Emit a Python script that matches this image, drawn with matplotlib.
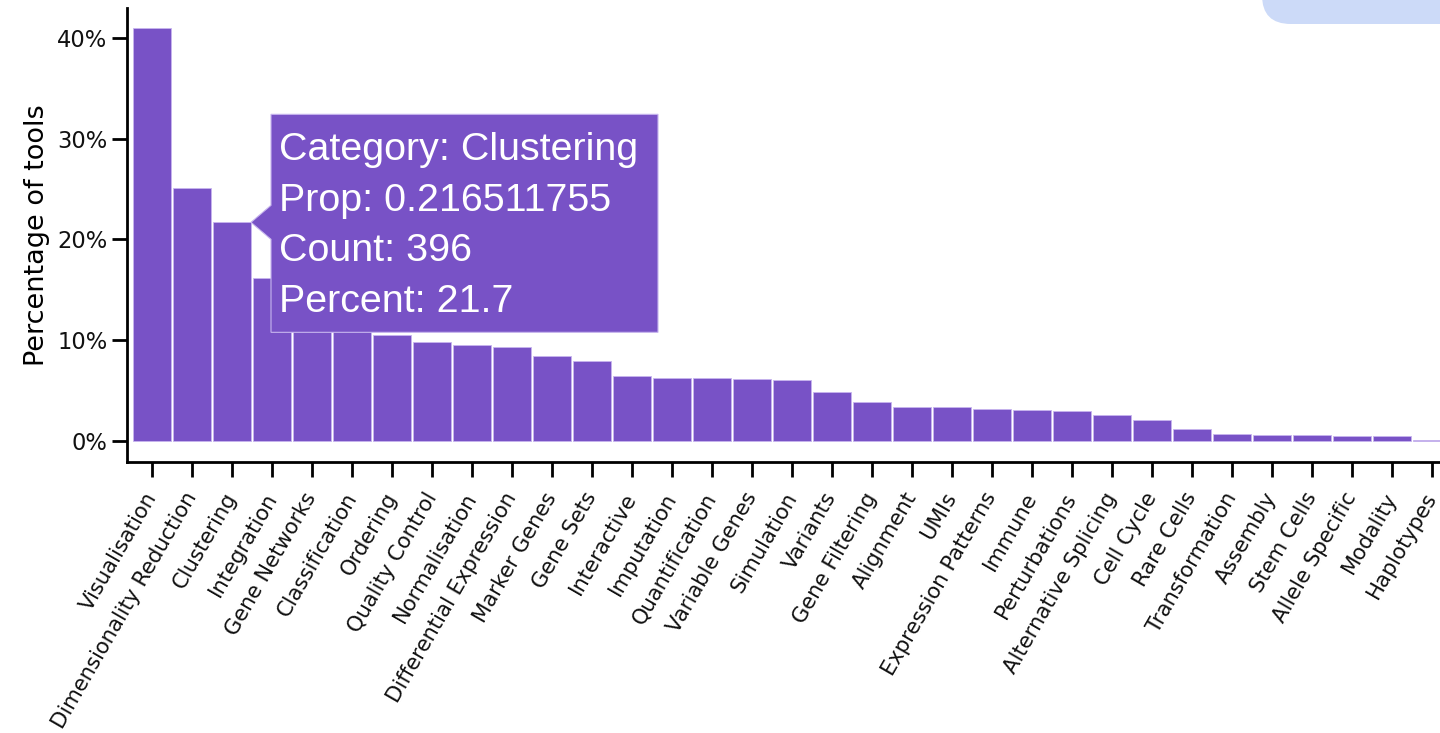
"""
Bar chart of scRNA-tools categories with a hover tooltip, re-drawn in matplotlib
"""
import numpy as np
import matplotlib
matplotlib.use('Agg')
import matplotlib.pyplot as plt
from matplotlib.patches import Polygon, FancyBboxPatch
from matplotlib.ticker import FuncFormatter

# Data
categories = [
    'Visualisation', 'Dimensionality Reduction', 'Clustering', 'Integration',
    'Gene Networks', 'Classification', 'Ordering', 'Quality Control',
    'Normalisation', 'Differential Expression', 'Marker Genes', 'Gene Sets',
    'Interactive', 'Imputation', 'Quantification', 'Variable Genes',
    'Simulation', 'Variants', 'Gene Filtering', 'Alignment', 'UMIs',
    'Expression Patterns', 'Immune', 'Perturbations', 'Alternative Splicing',
    'Cell Cycle', 'Rare Cells', 'Transformation', 'Assembly', 'Stem Cells',
    'Allele Specific', 'Modality', 'Haplotypes',
]
percents = [
    41.0, 25.1, 21.7, 16.2, 11.6, 11.0, 10.5, 9.8, 9.5, 9.3, 8.4, 7.9,
    6.4, 6.2, 6.2, 6.1, 6.0, 4.8, 3.8, 3.3, 3.3, 3.1, 3.0, 2.9, 2.6,
    2.1, 1.2, 0.7, 0.6, 0.55, 0.45, 0.45, 0.1,
]
y_ticks = [0, 10, 20, 30, 40]

# Tooltip content (hovered bar)
tip_category = 'Clustering'
tip_prop = '0.216511755'
tip_count = 396
tip_percent = 21.7

PURPLE = '#7852c6'
DPI = 100
W, H = 1440, 733

fig = plt.figure(figsize=(W / DPI, H / DPI), dpi=DPI, facecolor='white')
# axes spans from the left spine to the right edge of the figure
ax = fig.add_axes([127 / W, 1 - 462 / H, 1 - 127 / W, (462 - 8) / H])

x = np.arange(len(categories))
ax.bar(x, percents, width=0.955, color=PURPLE, edgecolor='#c7b5ee',
       linewidth=0.6, zorder=2)

ax.set_xlim(-0.625, len(categories) - 1 + 0.2)
ax.set_ylim(-2.12, 43.0)

# Axis styling (d3 look: only left & bottom, thick ticks)
for side in ['top', 'right']:
    ax.spines[side].set_visible(False)
for side in ['left', 'bottom']:
    ax.spines[side].set_linewidth(2.0)
    ax.spines[side].set_color('black')

ax.set_yticks(y_ticks)
ax.yaxis.set_major_formatter(FuncFormatter(lambda v, _: f'{v:.0f}%'))
ax.set_xticks(x)
ax.set_xticklabels(categories, rotation=60, ha='right', va='center',
                   rotation_mode='anchor')
ax.tick_params(axis='both', length=11, width=2.0, color='black',
               labelcolor='#111111')
ax.tick_params(axis='x', pad=12, labelsize=15.2)
ax.tick_params(axis='y', pad=3, labelsize=16.3)

ax.set_ylabel('Percentage of tools', fontsize=19.5, labelpad=5)

# Tooltip: box with a small pointer at the right edge of the hovered bar
fig.canvas.draw()
i = categories.index(tip_category)
tx, ty = ax.transData.transform((i + 0.475, percents[i]))
box = [(tx + 20, ty + 17), (tx + 20, ty + 108), (tx + 407, ty + 108),
       (tx + 407, ty - 110), (tx + 20, ty - 110), (tx + 20, ty - 17),
       (tx, ty)]
fig.patches.append(Polygon(box, closed=True, transform=None,
                           facecolor=PURPLE, edgecolor='#c7b5ee',
                           linewidth=0.8, zorder=5))
tip_lines = [
    f'Category: {tip_category}',
    f'Prop: {tip_prop}',
    f'Count: {tip_count}',
    f'Percent: {tip_percent}',
]
for k, line in enumerate(tip_lines):
    fig.text((tx + 28) / W, (ty + 72 - 50.5 * k) / H, line,
             color='white', fontsize=28.4, family='Liberation Sans',
             ha='left', va='center', zorder=6)

# Light blue rounded panel peeking in at the top-right corner
fig.patches.append(FancyBboxPatch(
    (1262 / W, 1 - 24 / H), 300 / W, 60 / H,
    boxstyle='round,pad=0,rounding_size=0.02',
    transform=fig.transFigure, facecolor='#ccdaf8', edgecolor='none',
    mutation_aspect=W / H, zorder=0))

fig.savefig('out.png', dpi=DPI, facecolor='white')
